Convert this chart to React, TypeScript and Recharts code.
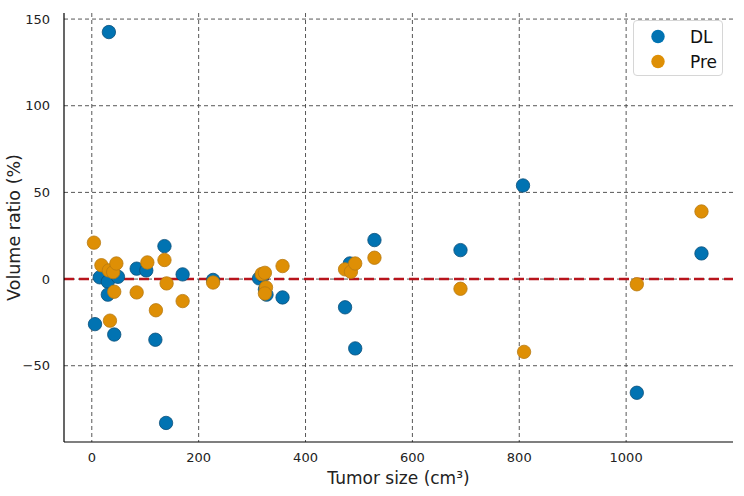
import { ScatterChart, Scatter, XAxis, YAxis, CartesianGrid, ReferenceLine } from 'recharts';

const dlSize = [6, 15, 30, 30, 49, 42, 32, 84, 102, 119, 136, 139, 170, 227, 313, 320, 324, 327, 357, 474, 483, 493, 529, 690, 807, 1020, 1141];
const dlRatio = [-26, 1, -1.5, -9, 1.3, -32, 142.5, 6, 5, -35, 19, -83, 2.7, -0.5, 0.4, 2, -6, -9, -10.6, -16.3, 9, -40, 22.5, 16.7, 54, -65.6, 14.8];

const preSize = [4, 18, 32, 40, 46, 42, 34, 84, 104, 120, 136, 140, 170, 227, 318, 324, 326, 324, 357, 474, 485, 493, 529, 690, 809, 1020, 1141];
const preRatio = [21, 8, 5, 4, 9, -7.3, -24, -7.7, 9.6, -18, 11, -2.5, -12.7, -2, 2.9, 3.6, -4.8, -8.3, 7.5, 5.6, 4.2, 9, 12.3, -5.6, -42, -3, 39];

const xTicks = [0, 200, 400, 600, 800, 1000];
const yTicks = [-50, 0, 50, 100, 150];

const BLUE = '#0173b2';
const ORANGE = '#de8f05';
const FONT = 'DejaVu Sans';

const dlData = dlSize.map((x, i) => ({ x, y: dlRatio[i] }));
const preData = preSize.map((x, i) => ({ x, y: preRatio[i] }));

const fmt = (v: number) => (v < 0 ? `\u2212${-v}` : `${v}`);

function dot(fill: string, edge: string) {
  return (props: any) => (
    <circle cx={props.cx} cy={props.cy} r={6.7} fill={fill} stroke={edge} strokeWidth={0.8} />
  );
}

function LegendBox() {
  const items = [
    { name: 'DL', color: BLUE },
    { name: 'Pre', color: ORANGE },
  ];
  return (
    <div
      style={{
        position: 'absolute',
        left: 633,
        top: 20,
        width: 90,
        height: 56,
        border: '1px solid #d6d6d6',
        borderRadius: 4,
        background: '#fff',
        fontFamily: FONT,
        fontSize: 17,
        color: '#111',
        boxSizing: 'border-box',
        paddingTop: 3,
      }}
    >
      {items.map((it) => (
        <div key={it.name} style={{ display: 'flex', alignItems: 'center', height: 25 }}>
          <svg width={40} height={25}>
            <circle cx={24} cy={12.5} r={6.7} fill={it.color} />
          </svg>
          <span style={{ marginLeft: 16 }}>{it.name}</span>
        </div>
      ))}
    </div>
  );
}

const yLabel = (props: any) => {
  const vb = props.viewBox;
  const cy = vb.y + vb.height / 2;
  return (
    <text x={14} y={cy} transform={`rotate(-90 14 ${cy})`} textAnchor="middle" dominantBaseline="central" fontSize={17.5} fill="#222" fontFamily={FONT}>
      Volume ratio (%)
    </text>
  );
};

export default function App() {
  return (
    <div style={{ position: 'absolute', left: 0, top: 0, width: 744, height: 496, background: '#fff' }}>
      <ScatterChart width={744} height={496} margin={{ top: 13, right: 11, bottom: 4, left: 0 }}>
        <CartesianGrid stroke="#444" strokeDasharray="4 3" strokeWidth={0.9} syncWithTicks />
        <XAxis
          type="number"
          dataKey="x"
          domain={[-52, 1200]}
          ticks={xTicks}
          allowDataOverflow
          tickLine={false}
          axisLine={{ stroke: '#000', strokeWidth: 1.2 }}
          tick={{ fontSize: 13, fill: '#222', fontFamily: FONT }}
          tickMargin={5}
          height={50}
          label={{ value: 'Tumor size (cm\u00b3)', position: 'insideBottom', offset: 8, fontSize: 17, fill: '#222', fontFamily: FONT }}
        />
        <YAxis
          type="number"
          dataKey="y"
          domain={[-94, 153.5]}
          ticks={yTicks}
          allowDataOverflow
          tickFormatter={fmt}
          tickLine={false}
          axisLine={{ stroke: '#000', strokeWidth: 1.2 }}
          tick={{ fontSize: 13, fill: '#222', fontFamily: FONT }}
          tickMargin={8}
          width={64}
          label={yLabel}
        />
        <ReferenceLine y={0} stroke="#b8141c" strokeWidth={2.6} strokeDasharray="10 5" />
        <Scatter name="DL" data={dlData} fill={BLUE} shape={dot(BLUE, '#0b4f7a')} isAnimationActive={false} />
        <Scatter name="Pre" data={preData} fill={ORANGE} shape={dot(ORANGE, '#b87a12')} isAnimationActive={false} />
      </ScatterChart>
      <LegendBox />
    </div>
  );
}
